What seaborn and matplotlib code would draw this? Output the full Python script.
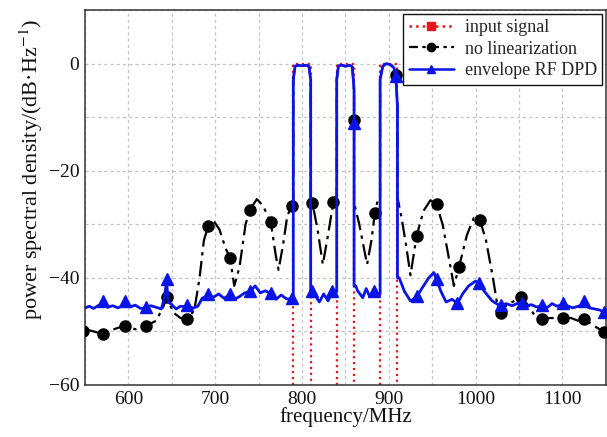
import numpy as np
import pandas as pd
import matplotlib
matplotlib.use("Agg")
import matplotlib.pyplot as plt
from matplotlib.lines import Line2D
from matplotlib.ticker import MultipleLocator
import seaborn as sns

# ---------------- data ----------------
# input signal (three 20 MHz carriers)
input_f = [550, 790, 790, 810, 810, 840, 840, 860, 860, 890, 890, 910, 910, 1150]
input_db = [-100, -100, 0, 0, -100, -100, 0, 0, -100, -100, 0, 0, -100, -100]

# no linearization curve
nolin_f = [550, 560, 571, 585, 596, 608, 620, 632, 640, 644, 652, 660, 668, 676, 682, 687,
           692, 698, 705, 712, 717, 722, 728, 735, 740, 748, 755, 764, 770, 773, 778, 783,
           788, 790, 790, 792, 795, 800, 805, 808, 810, 810, 812, 818, 824, 830, 836, 840,
           840, 842, 846, 850, 855, 858, 860, 860, 860, 866, 875, 880, 884, 888, 890, 890,
           893, 897, 902, 906, 908, 910, 910, 915, 920, 925, 932, 940, 948, 955, 962, 970,
           975, 981, 990, 998, 1005, 1012, 1020, 1025, 1029, 1036, 1045, 1052, 1060, 1068,
           1077, 1085, 1093, 1101, 1110, 1118, 1125, 1135, 1142, 1150]
nolin_db = [-49.6, -50.0, -50.5, -49.5, -48.9, -49.6, -49.0, -48.0, -45.5, -43.6, -46.5,
            -47.5, -47.7, -46.0, -40.0, -33.0, -30.3, -29.3, -31.0, -34.5, -36.2, -41.5,
            -38.0, -30.0, -27.3, -25.3, -26.5, -29.6, -36.0, -38.5, -34.0, -28.5, -26.5,
            -26.0, -3.0, -0.5, -0.3, -0.4, -0.3, -0.5, -3.0, -26.0, -26.0, -31.0, -37.5,
            -32.0, -26.0, -25.5, -3.0, -0.4, -0.3, -0.5, -0.3, -0.6, -5.0, -11.0, -26.0,
            -30.0, -37.5, -33.0, -27.8, -25.0, -25.0, -3.0, -0.5, 0.0, -0.2, -0.8, -2.3,
            -8.0, -25.0, -29.0, -34.0, -39.5, -32.2, -27.5, -25.5, -26.3, -30.0, -37.0,
            -41.5, -37.9, -32.0, -28.8, -29.2, -33.0, -40.0, -45.0, -46.5, -45.0, -44.3,
            -43.5, -45.0, -47.0, -47.7, -47.5, -47.5, -47.4, -47.5, -48.0, -47.7, -48.8,
            -49.5, -50.2]
nolin_mk_f = [548, 571, 596, 620, 644, 668, 692, 717, 740, 764, 788, 812, 836, 860, 884,
              908, 932, 955, 981, 1005, 1029, 1052, 1077, 1101, 1125, 1148]
nolin_mk_db = [-49.9, -50.5, -48.9, -49.0, -43.6, -47.7, -30.3, -36.2, -27.3, -29.6, -26.5,
               -26.0, -25.9, -10.5, -27.8, -2.2, -32.2, -26.3, -37.9, -29.2, -46.5, -43.5,
               -47.7, -47.4, -47.7, -50.1]

# envelope RF DPD curve
dpd_f = [550, 555, 560, 565, 571, 576, 582, 588, 596, 602, 608, 614, 620, 626, 632, 638,
         641, 644, 646, 650, 655, 660, 668, 675, 680, 685, 692, 698, 704, 710, 717, 722,
         728, 734, 740, 746, 752, 758, 764, 770, 776, 782, 788, 790, 790, 792, 795,
         800, 805, 808, 810, 810, 812, 816, 820, 825, 830, 835, 840, 840, 842,
         846, 850, 855, 858, 860, 860, 860, 862, 864, 870, 874, 878, 883, 886, 890,
         890, 893, 897, 902, 906, 908, 910, 910, 912, 918, 925, 932, 938, 946, 952,
         955, 960, 966, 973, 979, 985, 992, 1000, 1004, 1010, 1019, 1024, 1029, 1035,
         1042, 1048, 1053, 1058, 1064, 1070, 1077, 1083, 1088, 1094, 1101, 1107, 1112,
         1118, 1125, 1131, 1137, 1143, 1150]
dpd_db = [-45.6, -45.3, -45.7, -45.2, -45.0, -45.5, -45.2, -45.6, -45.0, -45.4, -45.1,
          -45.7, -45.6, -45.2, -45.5, -45.8, -44.0, -40.8, -44.5, -45.0, -45.8, -45.3,
          -45.4, -45.6, -45.3, -43.8, -43.3, -43.6, -43.0, -43.8, -43.2, -44.0, -43.5,
          -42.8, -42.6, -41.5, -42.8, -42.4, -43.0, -44.0, -43.2, -43.9, -44.0, -44.0,
          -3.0, -0.5, -0.3, -0.4, -0.3, -0.5, -3.0, -42.6, -42.6, -43.5, -44.5, -43.0,
          -44.3, -42.6, -42.6, -3.0, -0.4, -0.3, -0.5, -0.3, -0.6, -5.0, -11.0, -41.5,
          -41.5, -42.4, -43.7, -42.0, -43.5, -42.6, -43.0, -43.0, -3.0, -0.5, 0.0, -0.2,
          -0.8, -2.3, -8.0, -40.0, -40.0, -42.5, -44.3, -43.6, -42.0, -40.0, -39.0, -40.3,
          -42.5, -44.5, -44.0, -44.8, -43.0, -41.5, -40.6, -41.0, -42.5, -44.3, -44.8,
          -45.3, -44.8, -45.2, -44.8, -44.8, -45.3, -45.0, -45.4, -45.4, -45.5, -44.8,
          -45.3, -44.9, -45.3, -45.6, -45.3, -45.0, -45.6, -45.8, -46.0, -46.6]
dpd_mk_f = [571, 596, 620, 644, 668, 692, 717, 740, 764, 788, 812, 835, 860, 883, 908,
            932, 955, 979, 1004, 1029, 1053, 1077, 1101, 1125, 1148]
dpd_mk_db = [-44.4, -44.4, -45.4, -40.3, -45.0, -43.1, -43.1, -42.4, -42.9, -43.7, -42.4,
             -42.4, -11.0, -42.4, -2.3, -43.4, -40.3, -44.6, -40.9, -45.0, -44.6, -45.0,
             -44.6, -44.4, -46.3]

legend_labels = ["input signal", "no linearization", "envelope RF DPD"]
xticks = [600, 700, 800, 900, 1000, 1100]
yticks = [0, -20, -40, -60]

# ---------------- style ----------------
sns.set_style("white")
plt.rcParams["font.family"] = ["Liberation Serif", "DejaVu Serif"]
plt.rcParams["mathtext.fontset"] = "stix"
plt.rcParams["axes.unicode_minus"] = True

fig = plt.figure(figsize=(6.07, 4.37), dpi=100)
ax = fig.add_axes([0.140, 0.119, 0.858, 0.858])

red = "#e8141b"
blue = "#0a14e6"
black = "#000000"

df_in = pd.DataFrame({"f": input_f, "db": input_db})
df_nl = pd.DataFrame({"f": nolin_f, "db": nolin_db})
df_dpd = pd.DataFrame({"f": dpd_f, "db": dpd_db})

sns.lineplot(data=df_in, x="f", y="db", ax=ax, estimator=None, sort=False,
             color=red, linestyle=":", linewidth=1.6, zorder=2)
sns.lineplot(data=df_nl, x="f", y="db", ax=ax, estimator=None, sort=False,
             color=black, linewidth=1.6, zorder=3)
ax.lines[-1].set_linestyle((0, (7, 2.5, 1.5, 2.5)))
ax.plot(nolin_mk_f, nolin_mk_db, linestyle="none", marker="o", markersize=8,
        color=black, zorder=4)
sns.lineplot(data=df_dpd, x="f", y="db", ax=ax, estimator=None, sort=False,
             color=blue, linewidth=2.0, zorder=5)
ax.plot(dpd_mk_f, dpd_mk_db, linestyle="none", marker="^", markersize=8,
        color=blue, zorder=6)

ax.set_xlim(550, 1150)
ax.set_ylim(-60, 10)
ax.set_xticks(xticks)
ax.set_yticks(yticks)
ax.xaxis.set_minor_locator(MultipleLocator(50))
ax.yaxis.set_minor_locator(MultipleLocator(10))
ax.grid(which="both", color="#c4c4c4", linestyle=(0, (2.5, 2.5)), linewidth=0.9)
ax.set_axisbelow(True)
ax.tick_params(which="both", direction="in", top=False, right=False,
               labelsize=14, colors="#222222", labelcolor="#111111", pad=4)
ax.tick_params(which="major", length=5, width=1.1)
ax.tick_params(which="minor", length=3, width=1.0)
for s in ax.spines.values():
    s.set_color("#333333")
    s.set_linewidth(1.1)

ax.set_xlabel("frequency/MHz", fontsize=15, labelpad=0, color="#111111")
ax.set_ylabel("power spectral density/(dB·Hz$^{-1}$)", fontsize=16, labelpad=3,
              color="#111111")
ax.yaxis.label.set_y(0.575)

handles = [
    Line2D([], [], color=red, linestyle=":", linewidth=1.8, marker="s", markersize=6),
    Line2D([], [], color=black, linestyle=(0, (4, 2, 1.5, 2)), linewidth=1.6,
           marker="o", markersize=6),
    Line2D([], [], color=blue, linestyle="-", linewidth=1.8, marker="^", markersize=6),
]
leg = ax.legend(handles, legend_labels, loc="upper right", fontsize=13,
                frameon=True, fancybox=False, edgecolor="#111111", framealpha=1,
                borderaxespad=0.2, handlelength=2.5, handletextpad=0.6,
                labelspacing=0.25, borderpad=0.3)
leg.get_frame().set_linewidth(1.0)
leg.set_zorder(10)

fig.savefig("out.png", dpi=100)
